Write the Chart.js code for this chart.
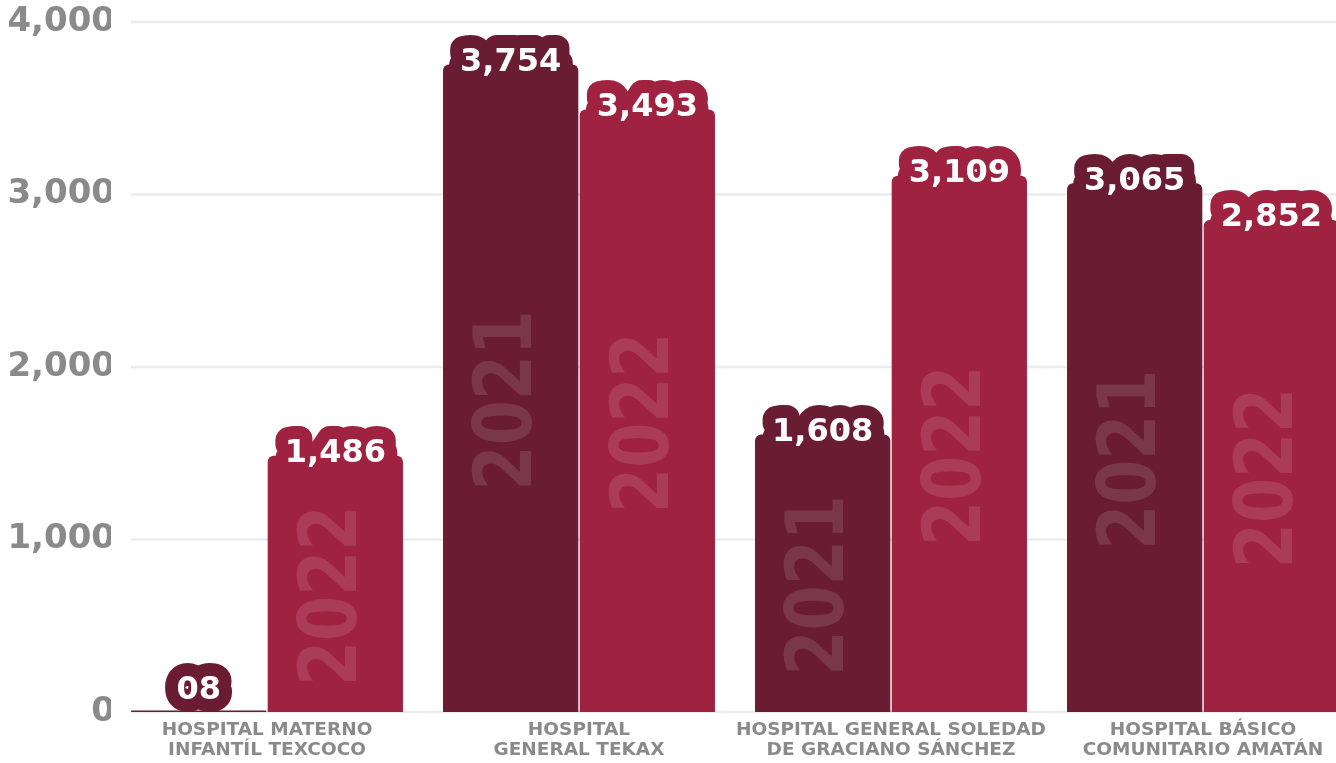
<!DOCTYPE html>
<html>
<head>
<meta charset="utf-8">
<script src="https://cdn.jsdelivr.net/npm/chart.js@4"></script>
<style>
  html, body { margin: 0; padding: 0; background: #fff; overflow: hidden; }
  #wrap { position: relative; width: 1359px; height: 763px; }
</style>
</head>
<body>
<div id="wrap"><canvas id="myChart"></canvas></div>
<script>
// Datos
var hospitales = [
    ['HOSPITAL MATERNO', 'INFANTÍL TEXCOCO'],
    ['HOSPITAL', 'GENERAL TEKAX'],
    ['HOSPITAL GENERAL SOLEDAD', 'DE GRACIANO SÁNCHEZ'],
    ['HOSPITAL BÁSICO', 'COMUNITARIO AMATÁN']
];
var anos = ['2021', '2022'];
var valores2021 = [8, 3754, 1608, 3065];
var valores2022 = [1486, 3493, 3109, 2852];
var ticksY = [0, 1000, 2000, 3000, 4000];

var cor2021 = '#691c32';
var cor2022 = '#9f2241';
var cinza = '#8a8a8a';

function formatar(v) {
    if (v < 10) return '0' + v;
    return v.toLocaleString('en-US');
}

// linhas de grade a partir da primeira barra
var gradePlugin = {
    id: 'grade',
    beforeDatasetsDraw: function (chart) {
        var ctx = chart.ctx;
        var y = chart.scales.y;
        var primeira = chart.getDatasetMeta(0).data[0];
        var x0 = primeira.x - primeira.width / 2;
        ctx.save();
        ctx.strokeStyle = '#ececec';
        ctx.lineWidth = 2.5;
        ticksY.forEach(function (t) {
            var py = y.getPixelForValue(t);
            ctx.beginPath();
            ctx.moveTo(x0, py);
            ctx.lineTo(chart.chartArea.right, py);
            ctx.stroke();
        });
        ctx.restore();
    }
};

// ano dentro da barra + rotulo de valor
var rotulosPlugin = {
    id: 'rotulos',
    afterDatasetsDraw: function (chart) {
        var ctx = chart.ctx;
        ctx.save();
        chart.data.datasets.forEach(function (ds, i) {
            chart.getDatasetMeta(i).data.forEach(function (bar) {
                var left = bar.x - bar.width / 2;
                var h = bar.base - bar.y;
                if (h < 5) return;
                ctx.save();
                ctx.beginPath();
                ctx.rect(left, bar.y, bar.width, h);
                ctx.clip();
                ctx.translate(bar.x, (bar.y + bar.base) / 2 + 12);
                ctx.rotate(-Math.PI / 2);
                ctx.scale(0.81, 1);
                ctx.font = 'bold 80px "DejaVu Sans", sans-serif';
                ctx.fillStyle = 'rgba(255,255,255,0.12)';
                ctx.textAlign = 'center';
                ctx.textBaseline = 'middle';
                ctx.fillText(ds.label, 0, 0);
                ctx.restore();
            });
        });
        chart.data.datasets.forEach(function (ds, i) {
            chart.getDatasetMeta(i).data.forEach(function (bar, j) {
                var txt = formatar(ds.data[j]);
                var cy = Math.min(bar.y - 2, bar.base - 21);
                ctx.font = 'bold 32px "DejaVu Sans", sans-serif';
                ctx.textAlign = 'center';
                ctx.textBaseline = 'middle';
                ctx.lineJoin = 'round';
                ctx.lineWidth = 26;
                ctx.strokeStyle = ds.backgroundColor;
                ctx.strokeText(txt, bar.x, cy);
                ctx.fillStyle = '#ffffff';
                ctx.fillText(txt, bar.x, cy);
            });
        });
        ctx.restore();
    }
};

var ctx = document.getElementById('myChart').getContext('2d');
var myChart = new Chart(ctx, {
    type: 'bar',
    data: {
        labels: hospitales,
        datasets: [{
            label: anos[0],
            data: valores2021,
            backgroundColor: cor2021,
            borderRadius: { topLeft: 6, topRight: 6 },
            borderSkipped: 'bottom'
        }, {
            label: anos[1],
            data: valores2022,
            backgroundColor: cor2022,
            borderRadius: { topLeft: 6, topRight: 6 },
            borderSkipped: 'bottom'
        }]
    },
    options: {
        responsive: true,
        maintainAspectRatio: false,
        animation: false,
        categoryPercentage: 0.876,
        barPercentage: 0.99,
        layout: { padding: { top: 22, left: 0, right: 0, bottom: 0 } },
        plugins: {
            legend: { display: false },
            tooltip: { enabled: false }
        },
        scales: {
            x: {
                grid: { display: false, drawTicks: false },
                border: { display: false },
                ticks: {
                    color: cinza,
                    padding: 8,
                    maxRotation: 0,
                    autoSkip: false,
                    font: { family: 'DejaVu Sans', size: 18.5, weight: 'bold', lineHeight: 1.08 }
                },
                afterFit: function (scale) { scale.height = 51; }
            },
            y: {
                min: 0,
                max: 4000,
                grid: { display: false, drawTicks: false },
                border: { display: false },
                ticks: {
                    stepSize: 1000,
                    color: cinza,
                    padding: -4,
                    font: { family: 'DejaVu Sans', size: 34, weight: 'bold' },
                    callback: function (v) { return v.toLocaleString('en-US'); }
                },
                afterFit: function (scale) { scale.width = 111; }
            }
        }
    },
    plugins: [gradePlugin, rotulosPlugin]
});
</script>
</body>
</html>
